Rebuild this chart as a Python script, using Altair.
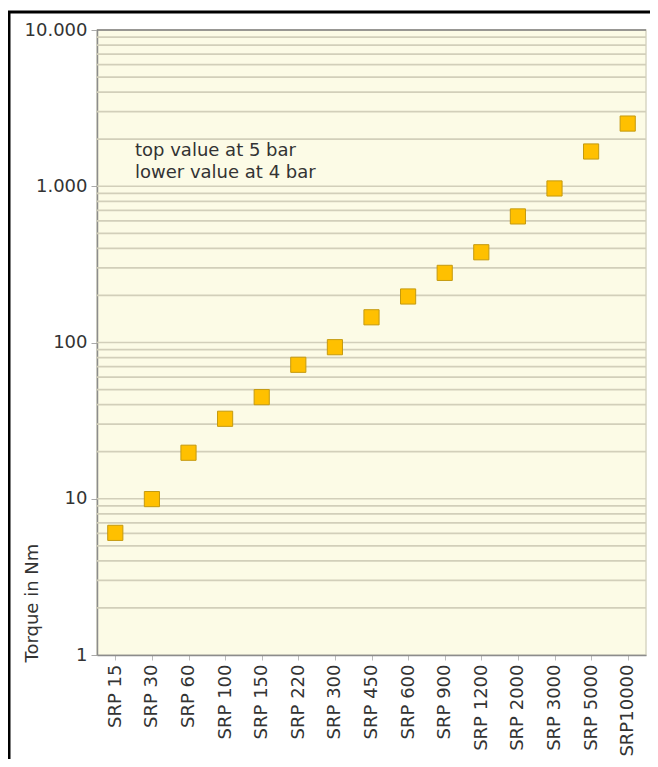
import altair as alt
import pandas as pd

categories = ["SRP 15", "SRP 30", "SRP 60", "SRP 100", "SRP 150", "SRP 220", "SRP 300",
              "SRP 450", "SRP 600", "SRP 900", "SRP 1200", "SRP 2000", "SRP 3000",
              "SRP 5000", "SRP10000"]
torque = [6.05, 9.95, 19.7, 32.5, 44.7, 72, 93.3, 145, 197, 279, 378, 641, 968, 1669, 2519]

decade_ticks = [1, 10, 100, 1000, 10000]
decade_labels = ["1", "10", "100", "1.000", "10.000"]
grid_values = [2, 3, 4, 5, 6, 7, 8, 9, 10,
               20, 30, 40, 50, 60, 70, 80, 90, 100,
               200, 300, 400, 500, 600, 700, 800, 900, 1000,
               2000, 3000, 4000, 5000, 6000, 7000, 8000, 9000]
note_lines = ["top value at 5 bar", "lower value at 4 bar"]

FONT = "DejaVu Sans"
W, H = 549, 625

df = pd.DataFrame({"model": categories, "torque": torque})
grid_df = pd.DataFrame({"g": grid_values})

label_map = "{" + ",".join(f"'{v}':'{l}'" for v, l in zip(decade_ticks, decade_labels)) + "}"

yscale = alt.Scale(type="log", domain=[1, 10000])
yaxis = alt.Axis(values=decade_ticks, labelExpr=f"{label_map}[datum.value + '']",
                 labelFont=FONT, labelFontSize=18, labelColor="#333333",
                 tickColor="#AAAAAA", tickSize=6, labelPadding=4,
                 domainColor="#8C8C8C", domainWidth=1.5, grid=False,
                 titleFont=FONT, titleFontSize=18, titleFontWeight="normal",
                 titleColor="#333333", titleAngle=270, titleAlign="left",
                 titleBaseline="middle", titleX=-65, titleY=632)
YTITLE = "Torque in Nm"

grid = alt.Chart(grid_df).mark_rule(color="#D2CFBA", strokeWidth=1.7).encode(
    y=alt.Y("g:Q", scale=yscale, axis=yaxis, title=YTITLE)
)

top_line = alt.Chart(pd.DataFrame({"g": [10000]})).mark_rule(color="#7F7F7F", strokeWidth=1.5).encode(
    y=alt.Y("g:Q", scale=yscale, axis=yaxis, title=YTITLE)
)

points = alt.Chart(df).mark_point(
    shape="square", filled=True, size=230, fill="#FFC000", stroke="#C49A10",
    strokeWidth=1, opacity=1
).encode(
    x=alt.X("model:N", sort=categories, title=None,
            scale=alt.Scale(paddingInner=0, paddingOuter=0),
            axis=alt.Axis(labelAngle=270, bandPosition=0, labelFont=FONT, labelFontSize=18,
                          labelColor="#333333", tickColor="#BBBBBB", tickSize=5,
                          domainColor="#8C8C8C", domainWidth=1.5, labelPadding=4,
                          labelAlign="right", labelBaseline="middle", grid=False)),
    y=alt.Y("torque:Q", scale=yscale, title=YTITLE, axis=yaxis)
)

note_layers = []
for txt, ypix in zip(note_lines, [126, 148]):
    note_layers.append(
        alt.Chart(pd.DataFrame({"text": [txt]})).mark_text(
            align="left", baseline="alphabetic", font=FONT, fontSize=18, color="#333333"
        ).encode(text="text:N", x=alt.value(38), y=alt.value(ypix))
    )

frame_h = alt.Chart(pd.DataFrame({"a": [0]})).mark_rule(color="#000000", strokeWidth=3).encode(
    x=alt.value(-89), x2=alt.value(570), y=alt.value(-18)
)
frame_v = alt.Chart(pd.DataFrame({"a": [0]})).mark_rule(color="#000000", strokeWidth=3).encode(
    x=alt.value(-88), y=alt.value(-19), y2=alt.value(760)
)

chart = alt.layer(grid, top_line, points, *note_layers, frame_h, frame_v).resolve_scale(
    y="shared"
).properties(
    width=W, height=H,
    autosize=alt.AutoSizeParams(type="none"),
    padding={"left": 89, "top": 22, "right": 4, "bottom": 104},
    background="white"
).configure_view(
    fill="#FCFBE6", stroke="#D8D6C4", strokeWidth=1.5
)

chart.save("out.html", embed_options={"renderer": "svg", "actions": False})
